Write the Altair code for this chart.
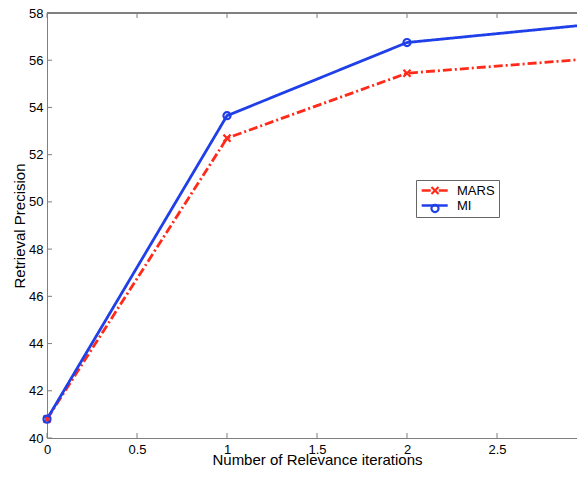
import altair as alt
import pandas as pd

iterations = [0, 1, 2, 3]
mars = [40.8, 52.7, 55.45, 56.05]
mi = [40.8, 53.65, 56.75, 57.5]
series_names = ["MARS", "MI"]
x_ticks = [0, 0.5, 1, 1.5, 2, 2.5, 3]
y_ticks = [40, 42, 44, 46, 48, 50, 52, 54, 56, 58]

W, H = 530, 425      # visible plot area (page cuts the figure on the right)
XR = 540             # x=3 lies just beyond the visible edge, as in the reference
FONT = "Liberation Sans"
AXIS_GRAY = "#7f7f7f"
COLORS = ["#ff2a1a", "#1f3fe8"]
X_MARK = "M-1,-1L1,1M-1,1L1,-1"
LINE_SYMBOL = "M-1.2,0H5.3"

rows = []
for name, vals in zip(series_names, [mars, mi]):
    for x, v in zip(iterations, vals):
        rows.append({"iter": x, "precision": v, "series": name})
df = pd.DataFrame(rows)

xs = alt.Scale(domain=[0, 3], range=[0, XR], nice=False, zero=False)
ys = alt.Scale(domain=[40, 58], nice=False, zero=False)

LX, LY = 369, 167

line_legend = alt.Legend(title=None, orient="none", legendX=LX, legendY=LY,
                         strokeColor="#666666", fillColor="white", padding=4,
                         labelFontSize=13, labelFont=FONT, labelColor="black",
                         labelExpr="datum.label + '      '",
                         symbolType=LINE_SYMBOL, symbolSize=64, symbolStrokeWidth=2.5,
                         rowPadding=1, labelOffset=24)
point_legend = alt.Legend(title=None, orient="none", legendX=LX, legendY=LY,
                          padding=4, labelFontSize=13, labelFont=FONT, labelOpacity=0,
                          labelExpr="datum.label + '      '",
                          symbolSize=50, symbolStrokeWidth=2.2, symbolFillColor="transparent",
                          symbolOffset=8.5, rowPadding=1, labelOffset=24)

lines = alt.Chart(df).mark_line(strokeWidth=2.8).encode(
    x=alt.X("iter:Q", scale=xs,
            axis=alt.Axis(values=x_ticks, ticks=False, title="Number of Relevance iterations",
                          format="~g", labelFontSize=13, titleFontSize=15, labelPadding=5,
                          titleY=26, titleBaseline="alphabetic",
                          domainColor=AXIS_GRAY, grid=False, labelFlush=False)),
    y=alt.Y("precision:Q", scale=ys,
            axis=alt.Axis(values=y_ticks, ticks=False, title="Retrieval Precision",
                          labelFontSize=13, titleFontSize=15, labelPadding=4,
                          titleX=-28, titleBaseline="middle",
                          domainColor=AXIS_GRAY, grid=False, labelFlush=False)),
    color=alt.Color("series:N", scale=alt.Scale(domain=series_names, range=COLORS), legend=line_legend),
    strokeDash=alt.StrokeDash("series:N", scale=alt.Scale(domain=series_names, range=[[9, 3, 2, 3], [1, 0]]),
                              legend=line_legend),
)

points = alt.Chart(df).mark_point(filled=False, size=50, strokeWidth=2.2, opacity=1).encode(
    x=alt.X("iter:Q", scale=xs),
    y=alt.Y("precision:Q", scale=ys),
    color=alt.Color("series:N", scale=alt.Scale(domain=series_names, range=COLORS), legend=point_legend),
    shape=alt.Shape("series:N", scale=alt.Scale(domain=series_names, range=[X_MARK, "circle"]),
                    legend=point_legend),
)

ydf = pd.DataFrame({"t": y_ticks})
xdf = pd.DataFrame({"t": x_ticks})
tick_style = dict(color=AXIS_GRAY, strokeWidth=1)
yl = alt.Chart(ydf).mark_rule(**tick_style).encode(y=alt.Y("t:Q", scale=ys), x=alt.value(0), x2=alt.value(5))
yr = alt.Chart(ydf).mark_rule(**tick_style).encode(y=alt.Y("t:Q", scale=ys), x=alt.value(XR), x2=alt.value(XR - 5))
xb = alt.Chart(xdf).mark_rule(**tick_style).encode(x=alt.X("t:Q", scale=xs), y=alt.value(H), y2=alt.value(H - 5))
xt = alt.Chart(xdf).mark_rule(**tick_style).encode(x=alt.X("t:Q", scale=xs), y=alt.value(0), y2=alt.value(5))
top = alt.Chart(xdf).mark_rule(**tick_style).encode(x=alt.value(0), x2=alt.value(XR), y=alt.value(0))

chart = alt.layer(top, yl, yr, xb, xt, lines, points).resolve_scale(
    color="independent", shape="independent", strokeDash="independent"
).resolve_legend(
    color="independent", shape="independent", strokeDash="independent"
).properties(
    width=W, height=H,
    autosize=alt.AutoSizeParams(type="none"),
    padding={"left": 39, "top": 5, "right": 0, "bottom": 31},
).configure_view(
    stroke=None
).configure_axis(
    labelFont=FONT, titleFont=FONT, labelColor="black", titleColor="black", titleFontWeight="normal"
)

chart.save("out.html", embed_options={"renderer": "svg", "actions": False})
